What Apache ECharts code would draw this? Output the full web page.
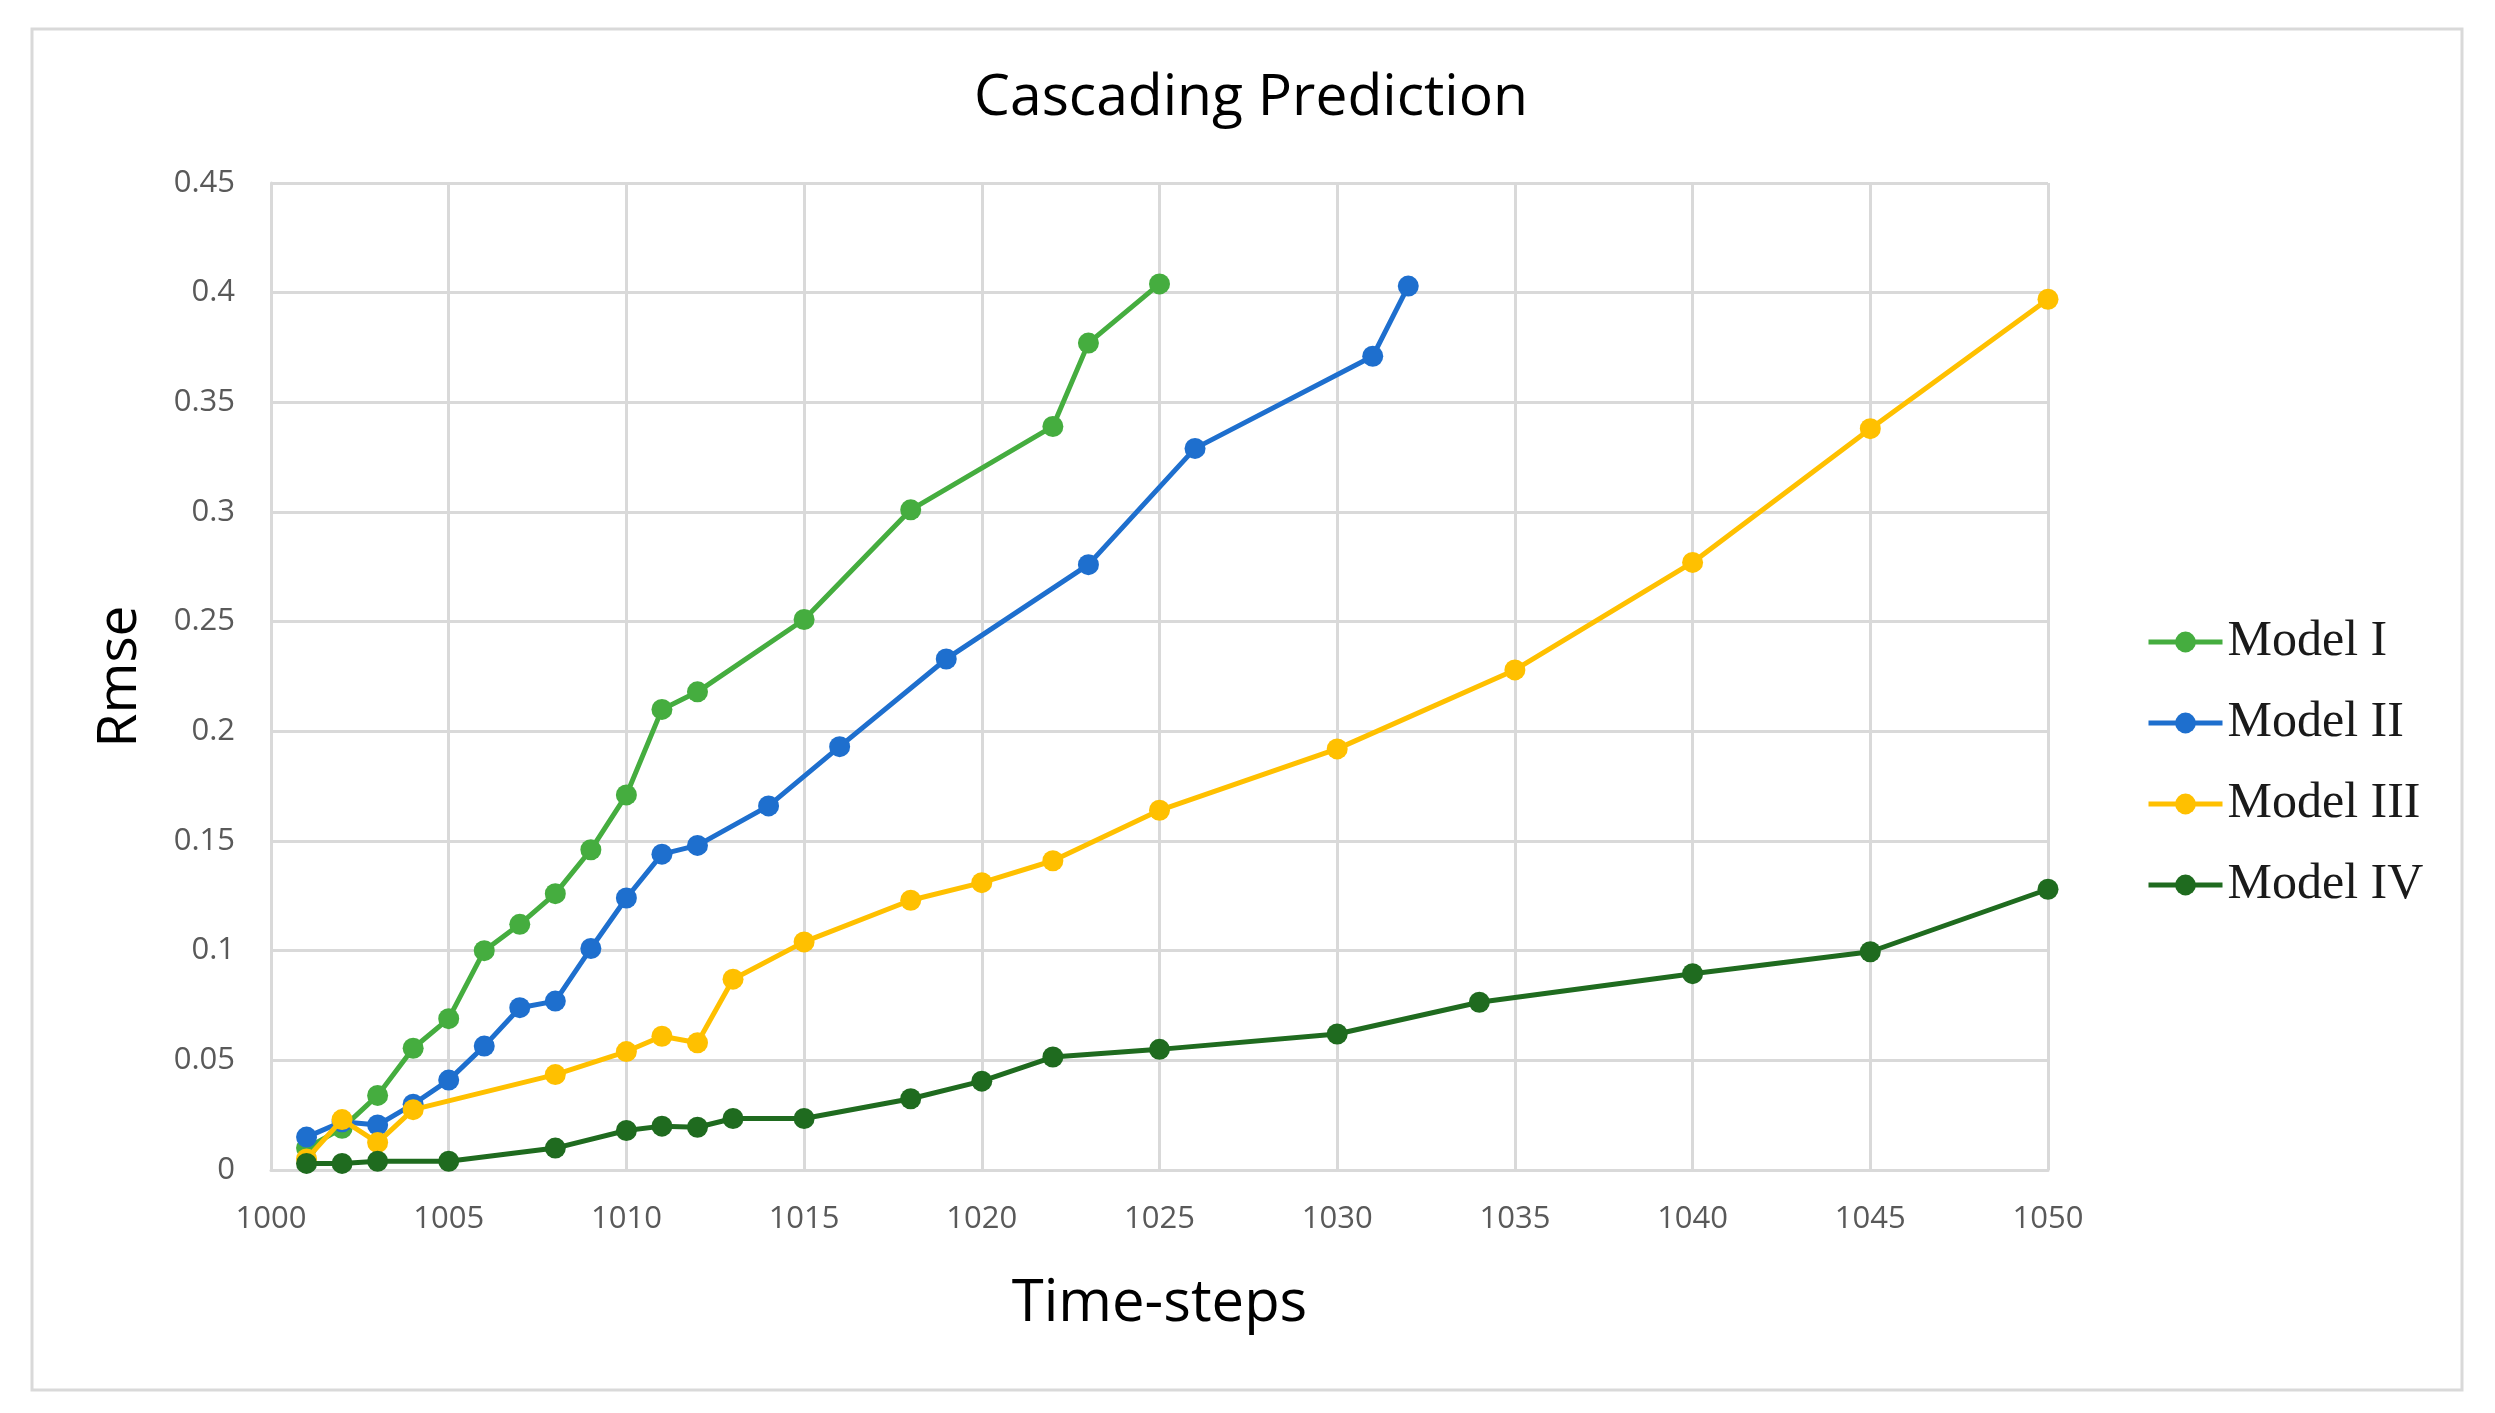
<!DOCTYPE html>
<html>
<head>
<meta charset="utf-8">
<script src="https://cdn.jsdelivr.net/npm/echarts@6/dist/echarts.min.js"></script>
<style>
html,body{margin:0;padding:0;background:#fff;}
#chart{width:2495px;height:1413px;}
</style>
</head>
<body>
<div id="chart"></div>
<script>
// ---- data ----
const seriesNames = ['Model I', 'Model II', 'Model III', 'Model IV'];

const model1X = [1001,1002,1003,1004,1005,1006,1007,1008,1009,1010,1011,1012,1015,1018,1022,1023,1025];
const model1Y = [0.010,0.019,0.034,0.0555,0.069,0.100,0.112,0.126,0.146,0.171,0.210,0.218,0.251,0.301,0.339,0.377,0.404];

const model2X = [1001,1002,1003,1004,1005,1006,1007,1008,1009,1010,1011,1012,1014,1016,1019,1023,1026,1031,1032];
const model2Y = [0.015,0.022,0.0205,0.030,0.041,0.0565,0.074,0.077,0.101,0.124,0.144,0.148,0.166,0.193,0.233,0.276,0.329,0.371,0.403];

const model3X = [1001,1002,1003,1004,1008,1010,1011,1012,1013,1015,1018,1020,1022,1025,1030,1035,1040,1045,1050];
const model3Y = [0.005,0.023,0.0125,0.0275,0.0435,0.054,0.061,0.058,0.087,0.104,0.123,0.131,0.141,0.164,0.192,0.228,0.277,0.338,0.397];

const model4X = [1001,1002,1003,1005,1008,1010,1011,1012,1013,1015,1018,1020,1022,1025,1030,1034,1040,1045,1050];
const model4Y = [0.003,0.003,0.004,0.004,0.010,0.018,0.020,0.0195,0.0235,0.0235,0.0325,0.0405,0.0515,0.055,0.062,0.0765,0.0895,0.0995,0.128];

const xMin = 1000, xMax = 1050, xStep = 5;
const yMin = 0, yMax = 0.45, yStep = 0.05;

const colors = ['#45AD3F', '#1E6FCE', '#FFC000', '#1F6B1F'];

// ---- build ----
function pairs(xs, ys){ return xs.map((x,i)=>[x, ys[i]]); }
const allData = [pairs(model1X,model1Y), pairs(model2X,model2Y), pairs(model3X,model3Y), pairs(model4X,model4Y)];

const chart = echarts.init(document.getElementById('chart'), null, {renderer:'canvas'});
const gridColor = '#D9D9D9';
const labelColor = '#595959';
const sansFont = "'Open Sans', 'Noto Sans', sans-serif";

chart.setOption({
  animation: false,
  backgroundColor: '#ffffff',
  graphic: [
    { type:'rect', z: -10, silent:true,
      shape:{x:32, y:29, width:2430, height:1361},
      style:{fill:'none', stroke:'#D9D9D9', lineWidth:3} },
    { type:'text', z: 10, x: 1251, y: 99,
      style:{ text:'Cascading Prediction', fill:'#000', font: "57px 'Open Sans', sans-serif",
              textAlign:'center', textVerticalAlign:'middle' } }
  ],
  grid: { left: 271, top: 183, width: 1777, height: 987, containLabel:false },
  legend: {
    orient: 'vertical',
    left: 2141,
    top: 612,
    itemWidth: 74,
    itemHeight: 26,
    itemGap: 31,
    lineStyle: { width: 5 },
    textStyle: { fontFamily: "'Liberation Serif', 'DejaVu Serif', serif", fontSize: 50, color:'#1a1a1a', lineHeight: 50 },
    data: seriesNames
  },
  xAxis: {
    type: 'value', min: xMin, max: xMax, interval: xStep,
    name: 'Time-steps', nameLocation: 'middle', nameGap: 105,
    nameTextStyle: { fontFamily: sansFont, fontSize: 58, color:'#000' },
    axisLine: { show: true, lineStyle: { color: gridColor, width: 3 } },
    axisTick: { show: false },
    axisLabel: { fontFamily: sansFont, fontSize: 31, color: labelColor, margin: 34,
      formatter: v => String(v) },
    splitLine: { show: true, lineStyle: { color: gridColor, width: 3 } }
  },
  yAxis: {
    type: 'value', min: yMin, max: yMax, interval: yStep,
    name: 'Rmse', nameLocation: 'middle', nameGap: 123, nameRotate: 90,
    nameTextStyle: { fontFamily: sansFont, fontSize: 55, color:'#000' },
    axisLine: { show: true, lineStyle: { color: gridColor, width: 3 } },
    axisTick: { show: false },
    axisLabel: { fontFamily: sansFont, fontSize: 31, color: labelColor, margin: 36,
      formatter: v => String(parseFloat(v.toFixed(2))) },
    splitLine: { show: true, lineStyle: { color: gridColor, width: 3 } }
  },
  series: seriesNames.map((n, i) => ({
    name: n,
    type: 'line',
    data: allData[i],
    symbol: 'circle',
    symbolSize: 21,
    showAllSymbol: true,
    lineStyle: { color: colors[i], width: 5 },
    itemStyle: { color: colors[i] },
    z: 2 + i
  }))
});
</script>
</body>
</html>
